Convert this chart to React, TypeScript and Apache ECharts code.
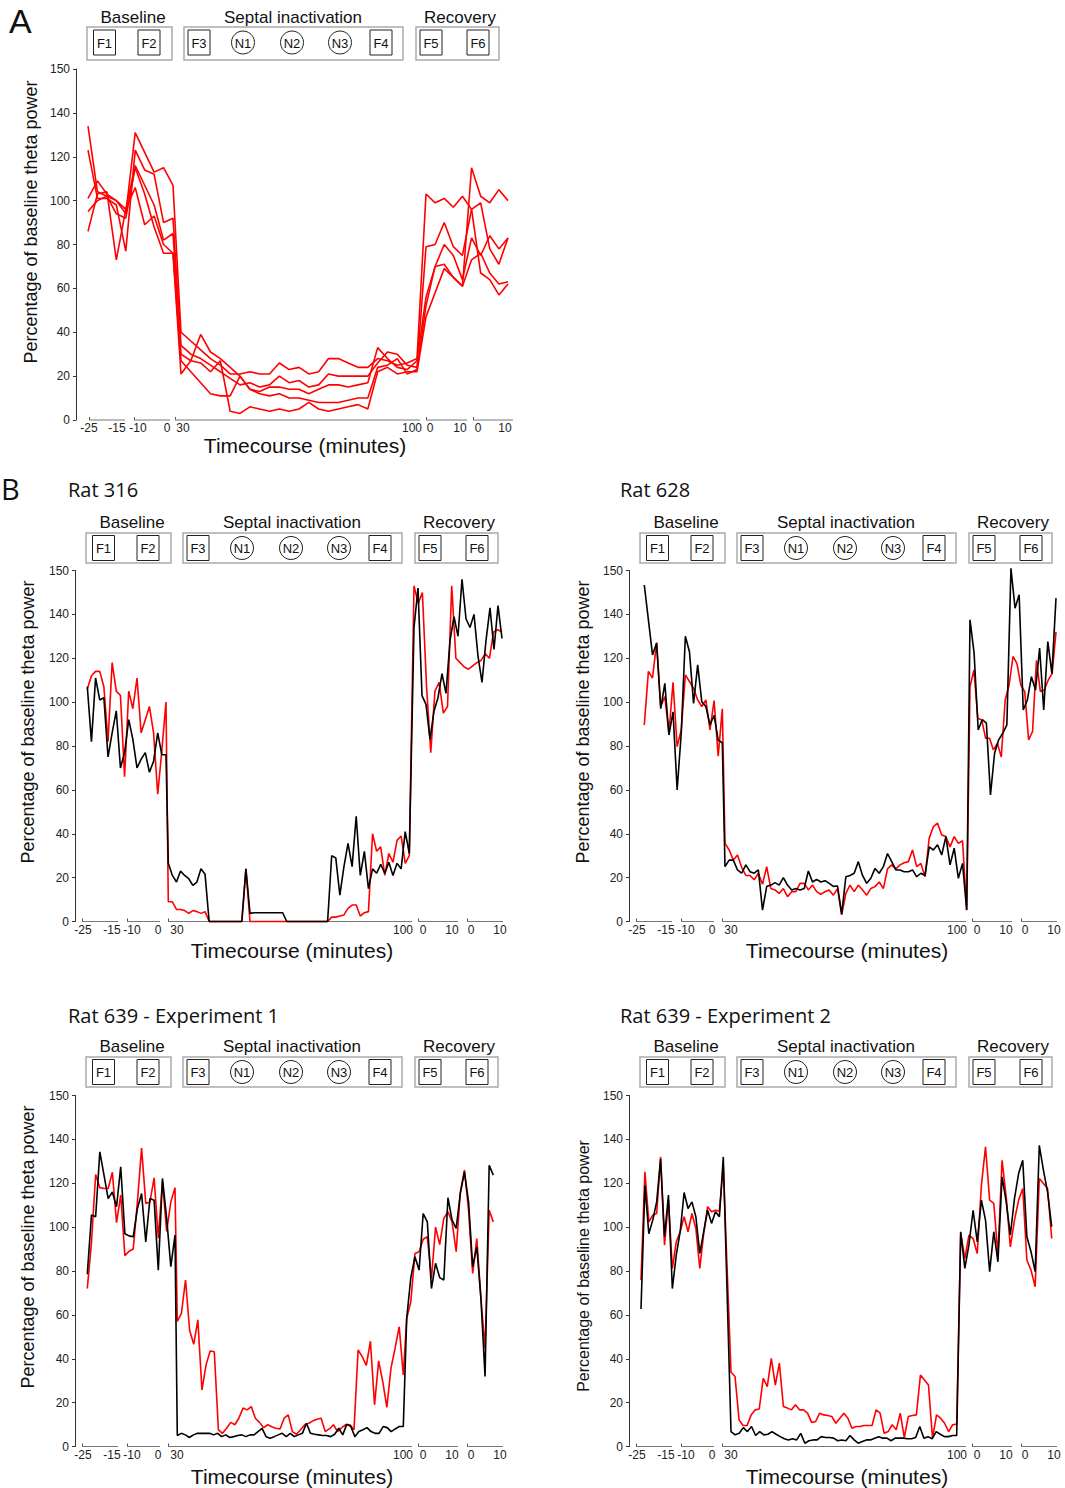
import React, { useEffect, useRef } from "react";
import * as echarts from "echarts";

// ---------- tick labels & annotations ----------
const X_TICK_TEXT = ["-25", "-15", "-10", "0", "30", "100", "0", "10", "0", "10"];
const Y_TICK_TEXT = ["0", "20", "40", "60", "80", "100", "120", "140", "150"];
const GROUP_LABELS = ["Baseline", "Septal inactivation", "Recovery"];
const EPOCHS = ["F1", "F2", "F3", "N1", "N2", "N3", "F4", "F5", "F6"];
const EPOCH_SHAPE = ["rect", "rect", "rect", "circle", "circle", "circle", "rect", "rect", "rect"];
const Y_NAME = "Percentage of baseline theta power";
const X_NAME = "Timecourse (minutes)";

// ---------- Panel A : five rats (baseline / inactivation / recovery) ----------
const A1_BASE = [134, 104, 102, 100, 94, 131, 122, 113, 115, 107];
const A1_INACT = [40, 36, 32, 28, 25, 21, 21, 22, 21, 21, 26, 23, 24, 21, 22, 28, 28, 26, 24, 24, 28, 27, 25, 26, 28];
const A1_REC = [103, 99, 101, 97, 102, 96, 67, 64, 57, 62];
const A2_BASE = [123, 101, 101, 98, 77, 123, 114, 112, 90, 92];
const A2_INACT = [34, 30, 28, 25, 22, 19, 16, 17, 15, 16, 20, 17, 18, 15, 16, 21, 20, 20, 20, 20, 26, 31, 30, 25, 24];
const A2_REC = [79, 80, 90, 79, 75, 96, 99, 78, 71, 83];
const A3_BASE = [101, 109, 103, 100, 96, 116, 107, 98, 82, 85];
const A3_INACT = [30, 27, 39, 31, 28, 24, 20, 14, 13, 15, 15, 14, 14, 12, 14, 16, 16, 15, 16, 17, 33, 28, 24, 23, 27];
const A3_REC = [56, 70, 80, 75, 64, 83, 75, 84, 78, 83];
const A4_BASE = [95, 100, 102, 94, 92, 115, 103, 88, 76, 76];
const A4_INACT = [27, 22, 17, 12, 11, 11, 20, 14, 12, 11, 12, 10, 10, 9, 8, 8, 8, 9, 10, 10, 24, 25, 28, 21, 23];
const A4_REC = [52, 70, 71, 65, 61, 73, 76, 67, 62, 63];
const A5_BASE = [86, 103, 104, 73, 96, 106, 89, 93, 80, 76];
const A5_INACT = [21, 27, 26, 22, 27, 4, 3, 6, 5, 4, 5, 4, 5, 8, 5, 4, 5, 6, 7, 5, 22, 24, 21, 22, 22];
const A5_REC = [47, 58, 69, 65, 61, 115, 102, 99, 105, 100];

// ---------- Rat 316 ----------
const R316_RED_BASE = [106, 112, 114, 114, 107, 82, 118, 105, 103, 66, 105, 97, 111, 86, 92, 98, 86, 58, 78, 100];
const R316_RED_INACT = [9, 9, 5.5, 5.5, 5, 3.7, 5, 4.5, 3.7, 4.5, 0, 0, 0, 0, 0, 0, 0, 0, 0, 24, 0,
  0, 0, 0, 0, 0, 0, 0, 0, 0, 0, 0, 0, 0, 0, 0, 0, 0, 0, 0,
  2, 2, 2.5, 3, 6, 7.5, 7.5, 2.5, 4, 4.5, 40, 32, 34, 21, 31, 27, 37, 39, 26.5, 30];
const R316_RED_REC = [153, 145, 150, 107, 77, 105, 109, 95, 98, 153, 120, 118, 116, 115, 116.5, 118, 119, 122, 120, 132, 133, 132];
const R316_BLK_BASE = [107, 82, 111, 101, 102, 75, 86, 96, 70, 77, 92, 83, 70, 74, 77, 68, 73, 86, 76, 76];
const R316_BLK_INACT = [26.5, 21, 18, 23, 21, 19.5, 16.5, 18, 24, 21.5, 0, 0, 0, 0, 0, 0, 0, 0, 0, 24, 3.7,
  4, 4, 4, 4, 4, 4, 4, 4, 0, 0, 0, 0, 0, 0, 0, 0, 0, 0, 0,
  30, 29, 12, 25, 35.6, 25, 48, 21, 32, 15, 24, 22, 26, 22, 27, 21, 26.5, 24, 41, 31];
const R316_BLK_REC = [134, 152, 103, 99, 83, 96, 102, 113, 104, 128, 139, 130, 156, 138, 134, 140, 121, 109, 128, 143, 124, 144, 129];

// ---------- Rat 628 ----------
const R628_RED_BASE = [89.6, 114, 111, 127, 98, 102.5, 85.8, 109, 79.7, 87.3, 112.4, 109.4, 106.3, 101, 98, 101, 87.3, 100.7, 75.4, 97];
const R628_RED_INACT = [35.6, 32.6, 28, 30.3, 24.7, 21, 21, 19, 22, 17, 25, 15, 14.4, 12.8, 15, 11.3, 13.6, 13.6, 17.4, 17.4,
  14.4, 16.6, 13.6, 12.4, 13.6, 14.4, 12, 15, 3, 12.8, 16.6, 13.6, 16.6, 14.4, 12, 15, 15.9, 18, 15, 24,
  25.8, 24, 25.8, 26.8, 27.3, 32.6, 25, 26.5, 20.4, 38, 43.2, 44.8, 39.4, 38.7, 34, 38.7, 35.6, 36.8, 5.2];
const R628_RED_REC = [107, 114.7, 92.6, 91.9, 83.5, 83.5, 78.2, 81.2, 75, 101, 107.8, 120.8, 117.7, 107.8, 104.8, 82.8, 86.6, 119, 104.8, 105.5, 110, 113, 132];
const R628_BLK_BASE = [153.4, 137.5, 121.5, 127, 97, 108.6, 85, 95.6, 60, 85.8, 130, 123, 99.4, 117, 100.2, 98, 89.6, 94, 82.7, 81.5];
const R628_BLK_INACT = [25, 28, 28, 23.5, 22, 25.8, 22.7, 22, 23.5, 5.2, 15.9, 16.6, 17.7, 16.6, 20, 16.6, 14.4, 15, 14.4, 15,
  23, 18, 19.2, 18, 18.6, 17.4, 16, 16.2, 3.4, 20.4, 21, 22, 27.3, 21, 17.4, 19.7, 24.2, 22, 25, 31,
  27.3, 23.5, 23.5, 22.7, 22.7, 23.5, 20.4, 22, 21, 34, 32.6, 35, 30.3, 38.7, 25.8, 33.4, 19.7, 26.5, 5.2];
const R628_BLK_REC = [137.5, 122.3, 87.3, 92, 90.4, 57.7, 76.7, 82.8, 85.8, 89.6, 161, 142.8, 148.9, 96.4, 101, 111.6, 105.5, 124.6, 96.4, 127.6, 113, 147.4];

// ---------- Rat 639 - Experiment 1 ----------
const E1_RED_BASE = [72, 93, 124, 118, 117.6, 117.6, 125, 102, 114.6, 87, 89, 90, 111.5, 136, 110.8, 111.5, 122.5, 95, 121, 98, 111.5, 118];
const E1_RED_INACT = [57, 60.7, 75.9, 53, 46.6, 57.7, 25.8, 37.2, 43.5, 43.2, 7.6, 6, 8.3, 11, 9.9, 13, 17.5, 16.7, 18.2, 12.9,
  11, 8.6, 9.9, 9, 8.3, 8, 12.9, 14.4, 6.8, 5.6, 7.6, 9.9, 10.6, 11.7, 12.4, 12.9, 6.8, 8, 9.9, 6.8,
  8.6, 9.9, 9.9, 7.6, 44, 41, 37, 48, 19, 39, 29.6, 17.8, 35.7, 44.8, 54.6, 32.6];
const E1_RED_REC = [58.4, 66, 88, 88.8, 94.5, 95.6, 76.6, 100, 92, 104, 107, 102.4, 88.8, 116, 126, 107.7, 78.9, 94.8, 67.5, 44.8, 107.7, 102.4];
const E1_BLK_BASE = [78.5, 105.5, 104.7, 134.3, 123.7, 113, 116, 109.3, 127.5, 97, 96, 95.6, 108.5, 115.3, 93.3, 113, 112.3, 80.4, 122.2, 104, 82, 96.4];
const E1_BLK_INACT = [5, 6, 5.3, 4.1, 5.3, 6, 6, 6, 6, 5.3, 6, 4.5, 5.3, 4.1, 4.5, 5, 5.3, 4.5, 5.3, 5.3,
  6.8, 8.3, 4.5, 3.8, 4.5, 5.3, 6, 4.5, 6, 4.5, 5.3, 6, 10.6, 6, 5.6, 5.3, 5, 5, 4.5, 5.6,
  8.3, 5.3, 10.2, 9.1, 4.5, 6.8, 7.6, 8.6, 6.8, 6, 6, 9.1, 8.6, 6.8, 8, 9.1, 9.1];
const E1_BLK_REC = [58.4, 77, 86.5, 80.4, 106.2, 102.4, 72, 83.5, 77, 75.9, 113.4, 103.2, 99.4, 115.3, 125.2, 111.5, 82, 91, 67.5, 31.9, 128.2, 123.7];

// ---------- Rat 639 - Experiment 2 ----------
const E2_RED_BASE = [75.9, 125.2, 102.4, 105.5, 106.2, 132, 91.8, 112.3, 81.2, 93.3, 97.9, 104.7, 97.9, 106.2, 99.4, 81.2, 97.1, 109.3, 107, 107.7, 107.3, 127.5];
const E2_RED_INACT = [34, 31.9, 12.1, 9.6, 9.6, 14.4, 16.7, 17.1, 31.1, 27.3, 40.2, 28, 38, 18.2, 17.5, 16.7, 19, 16.7, 16.7, 15.2,
  11, 11.4, 15.2, 14.4, 14.1, 13.7, 10.6, 12.9, 15.2, 12.9, 8.3, 9.1, 9.1, 9.6, 9.6, 9.6, 16.7, 15.2, 6, 6.8,
  9.9, 7.6, 15.2, 4.1, 13.7, 14.1, 14.4, 32.6, 30.3, 28, 3.8, 14.4, 12.9, 10.6, 6.8, 9.9, 10.2];
const E2_RED_REC = [97.1, 85.7, 96.4, 94.8, 88, 119, 136.6, 112.3, 110.8, 87.3, 130.5, 113.8, 91, 103.2, 112.3, 117.6, 85, 80.4, 72.8, 122.2, 119.9, 117.6, 94.8];
const E2_BLK_BASE = [62.7, 119, 97, 103.2, 111.5, 131, 95.6, 114.6, 72, 87.3, 97.9, 115.8, 108.5, 111.5, 104.7, 88, 97.9, 107.7, 101.7, 107, 104.7, 132];
const E2_BLK_INACT = [6.8, 5.3, 6, 8.6, 6.8, 9.1, 5, 6.8, 5.3, 5.6, 6.8, 5.6, 4.5, 3.5, 3, 3.5, 3, 6, 1.5, 2.6,
  3, 3, 4.5, 4.1, 4.1, 3.8, 2.6, 3, 2.6, 5, 3, 1.5, 2.3, 3, 3, 3.8, 4.5, 3.8, 3.8, 2.6,
  3.8, 3.8, 3.8, 3.5, 3.5, 4.1, 9.1, 3.8, 4.5, 3.5, 6.8, 5.6, 4.5, 4.5, 5, 5];
const E2_BLK_REC = [97.9, 81.2, 92, 107.7, 93.3, 112.3, 103.2, 79.7, 97.9, 84.2, 122.9, 111.5, 96.4, 113, 124.4, 130.5, 95.6, 88.8, 79.7, 137.3, 126, 116, 100.2];

// ---------- layout (axis units = pixels from the y axis line) ----------
const RED = "#ff0000";
const BLACK = "#000000";
const SANS = "'Liberation Sans', Arial, sans-serif";
const TITLE_FONT = "'Open Sans', 'Noto Sans', sans-serif";
const PLOT_H = 351;
const Y_MAX = 160;

const SEG_A: [number, number][] = [[13, 49], [58, 94], [99, 344], [350, 391], [397, 437]];
const TICK_A = [13, 41, 62, 91, 107, 336, 354, 384, 402, 429];
const SEG_B: [number, number][] = [[7, 43], [52, 85], [93, 337], [343, 383], [392, 428]];
const TICK_B = [8, 37, 57, 83, 102, 328, 348, 377, 396, 425];

// header positions relative to the y axis line
const GROUP_BOX: [number, number][] = [[11, 96], [108, 327], [340, 423]];
const GROUP_TEXT_X = [57, 217, 384];
const EPOCH_X = [28.5, 73, 123, 167, 216, 264, 305, 355, 402];

interface SeriesDef { color: string; parts: number[][] }
interface PanelDef {
  axisX: number; top: number; width: number;
  sections: [number, number][]; segs: [number, number][]; ticks: number[];
  headerTop: number; headerH: number; epochTop: number; groupTextY: number;
  yName: { x: number; y: number; size: number };
  xName: { x: number; y: number };
  title?: { text: string; x: number; y: number };
  series: SeriesDef[];
}

const PANELS: PanelDef[] = [
  {
    axisX: 76, top: 69, width: 440,
    sections: [[12, 97], [105, 341], [350, 432]], segs: SEG_A, ticks: TICK_A,
    headerTop: 27, headerH: 33, epochTop: 30, groupTextY: 17,
    yName: { x: 30.5, y: 222, size: 18 }, xName: { x: 305, y: 445 },
    series: [
      { color: RED, parts: [A1_BASE, A1_INACT, A1_REC] },
      { color: RED, parts: [A2_BASE, A2_INACT, A2_REC] },
      { color: RED, parts: [A3_BASE, A3_INACT, A3_REC] },
      { color: RED, parts: [A4_BASE, A4_INACT, A4_REC] },
      { color: RED, parts: [A5_BASE, A5_INACT, A5_REC] },
    ],
  },
  {
    axisX: 75, top: 570.5, width: 430,
    sections: [[12.3, 91], [93.3, 334.3], [339, 427]], segs: SEG_B, ticks: TICK_B,
    headerTop: 533, headerH: 30, epochTop: 535.5, groupTextY: 522,
    yName: { x: 28, y: 722, size: 18 }, xName: { x: 292, y: 950 },
    title: { text: "Rat 316", x: 68, y: 489 },
    series: [
      { color: RED, parts: [R316_RED_BASE, R316_RED_INACT, R316_RED_REC] },
      { color: BLACK, parts: [R316_BLK_BASE, R316_BLK_INACT, R316_BLK_REC] },
    ],
  },
  {
    axisX: 629, top: 570.5, width: 430,
    sections: [[15.3, 93.3], [96, 337.7], [341, 427]], segs: SEG_B, ticks: TICK_B,
    headerTop: 533, headerH: 30, epochTop: 535.5, groupTextY: 522,
    yName: { x: 582.5, y: 722, size: 18 }, xName: { x: 847, y: 950 },
    title: { text: "Rat 628", x: 620, y: 489 },
    series: [
      { color: RED, parts: [R628_RED_BASE, R628_RED_INACT, R628_RED_REC] },
      { color: BLACK, parts: [R628_BLK_BASE, R628_BLK_INACT, R628_BLK_REC] },
    ],
  },
  {
    axisX: 75, top: 1095.5, width: 430,
    sections: [[12.3, 100], [102.3, 328.3], [331.7, 418.3]], segs: SEG_B, ticks: TICK_B,
    headerTop: 1057, headerH: 30, epochTop: 1059.5, groupTextY: 1046,
    yName: { x: 28, y: 1247, size: 18 }, xName: { x: 292, y: 1476 },
    title: { text: "Rat 639 - Experiment 1", x: 68, y: 1015 },
    series: [
      { color: RED, parts: [E1_RED_BASE, E1_RED_INACT, E1_RED_REC] },
      { color: BLACK, parts: [E1_BLK_BASE, E1_BLK_INACT, E1_BLK_REC] },
    ],
  },
  {
    axisX: 629, top: 1095.5, width: 430,
    sections: [[12, 94.3], [102, 327.7], [331.7, 422.7]], segs: SEG_B, ticks: TICK_B,
    headerTop: 1057, headerH: 30, epochTop: 1059.5, groupTextY: 1046,
    yName: { x: 583.5, y: 1266, size: 16 }, xName: { x: 847, y: 1476 },
    title: { text: "Rat 639 - Experiment 2", x: 620, y: 1015 },
    series: [
      { color: RED, parts: [E2_RED_BASE, E2_RED_INACT, E2_RED_REC] },
      { color: BLACK, parts: [E2_BLK_BASE, E2_BLK_INACT, E2_BLK_REC] },
    ],
  },
];

function toPoints(sections: [number, number][], parts: number[][]) {
  const out: number[][] = [];
  parts.forEach((arr, k) => {
    const [s, e] = sections[k];
    const n = arr.length;
    arr.forEach((v, i) => out.push([s + ((e - s) * i) / Math.max(1, n - 1), v]));
  });
  return out;
}

function text(t: string, x: number, y: number, font: string, align = "center", extra: any = {}) {
  return {
    type: "text", x, y, silent: true, ...extra,
    style: { text: t, font, fill: "#111", textAlign: align, align, textVerticalAlign: "middle", verticalAlign: "middle" },
  };
}

function buildOption() {
  const grid: any[] = [];
  const xAxis: any[] = [];
  const yAxis: any[] = [];
  const series: any[] = [];
  const graphic: any[] = [];

  graphic.push(text("A", 9, 21, `34px ${SANS}`, "left"));
  graphic.push(text("B", 1, 488, `29px ${TITLE_FONT}`, "left"));

  PANELS.forEach((p, i) => {
    grid.push({ left: p.axisX, top: p.top, width: p.width, height: PLOT_H });
    xAxis.push({
      type: "value", gridIndex: i, min: 0, max: p.width,
      axisLine: { show: false }, splitLine: { show: false },
      axisTick: { show: true, customValues: p.segs.map((s) => s[0]), inside: true, length: 3, lineStyle: { color: "#555" } },
      axisLabel: {
        show: true, customValues: p.ticks, margin: 2, fontSize: 12, color: "#222", fontFamily: SANS,
        formatter: (v: number) => { const k = p.ticks.indexOf(v); return k >= 0 ? X_TICK_TEXT[k] : ""; },
      },
    });
    yAxis.push({
      type: "value", gridIndex: i, min: 0, max: Y_MAX, interval: 20,
      axisLine: { show: true, lineStyle: { color: "#333", width: 1 } },
      axisTick: { show: true, length: 3, lineStyle: { color: "#333" } },
      splitLine: { show: false },
      axisLabel: {
        margin: 6, fontSize: 12, color: "#222", fontFamily: SANS,
        formatter: (v: number) => Y_TICK_TEXT[Math.round(v / 20)] ?? "",
      },
    });
    p.segs.forEach((s) => series.push({
      type: "line", xAxisIndex: i, yAxisIndex: i, data: [[s[0], 0], [s[1], 0]],
      symbol: "none", silent: true, clip: false, z: 1, lineStyle: { color: "#777", width: 1 },
    }));
    p.series.forEach((s) => series.push({
      type: "line", xAxisIndex: i, yAxisIndex: i, data: toPoints(p.sections, s.parts),
      symbol: "none", showSymbol: false, clip: false, z: 2, lineStyle: { color: s.color, width: 1.6 },
    }));

    // header: group boxes, epoch boxes/circles, labels
    GROUP_BOX.forEach((b, g) => {
      graphic.push({
        type: "rect", silent: true,
        shape: { x: p.axisX + b[0], y: p.headerTop, width: b[1] - b[0], height: p.headerH },
        style: { fill: "none", stroke: "#aaa", lineWidth: 1.5 },
      });
      graphic.push(text(GROUP_LABELS[g], p.axisX + GROUP_TEXT_X[g], p.groupTextY, `17px ${SANS}`));
    });
    EPOCHS.forEach((e, k) => {
      const cx = p.axisX + EPOCH_X[k];
      if (EPOCH_SHAPE[k] === "rect") {
        graphic.push({
          type: "rect", silent: true,
          shape: { x: cx - 11, y: p.epochTop, width: 22, height: 25 },
          style: { fill: "#fff", stroke: "#222", lineWidth: 1 },
        });
      } else {
        graphic.push({
          type: "circle", silent: true,
          shape: { cx, cy: p.epochTop + 12.5, r: 11.5 },
          style: { fill: "#fff", stroke: "#222", lineWidth: 1 },
        });
      }
      graphic.push(text(e, cx, p.epochTop + 13, `13px ${SANS}`));
    });

    if (p.title) graphic.push(text(p.title.text, p.title.x, p.title.y, `20px ${TITLE_FONT}`, "left"));
    graphic.push(text(Y_NAME, p.yName.x, p.yName.y, `${p.yName.size}px ${SANS}`, "center", { rotation: Math.PI / 2 }));
    graphic.push(text(X_NAME, p.xName.x, p.xName.y, `21px ${SANS}`));
  });

  return { animation: false, backgroundColor: "#fff", grid, xAxis, yAxis, series, graphic };
}

export default function App() {
  const ref = useRef<HTMLDivElement>(null);
  useEffect(() => {
    if (!ref.current) return;
    const chart = echarts.init(ref.current, undefined, { renderer: "svg" });
    chart.setOption(buildOption() as any);
    return () => chart.dispose();
  }, []);
  return <div ref={ref} style={{ position: "absolute", left: 0, top: 0, width: 1065, height: 1488, background: "#fff" }} />;
}
